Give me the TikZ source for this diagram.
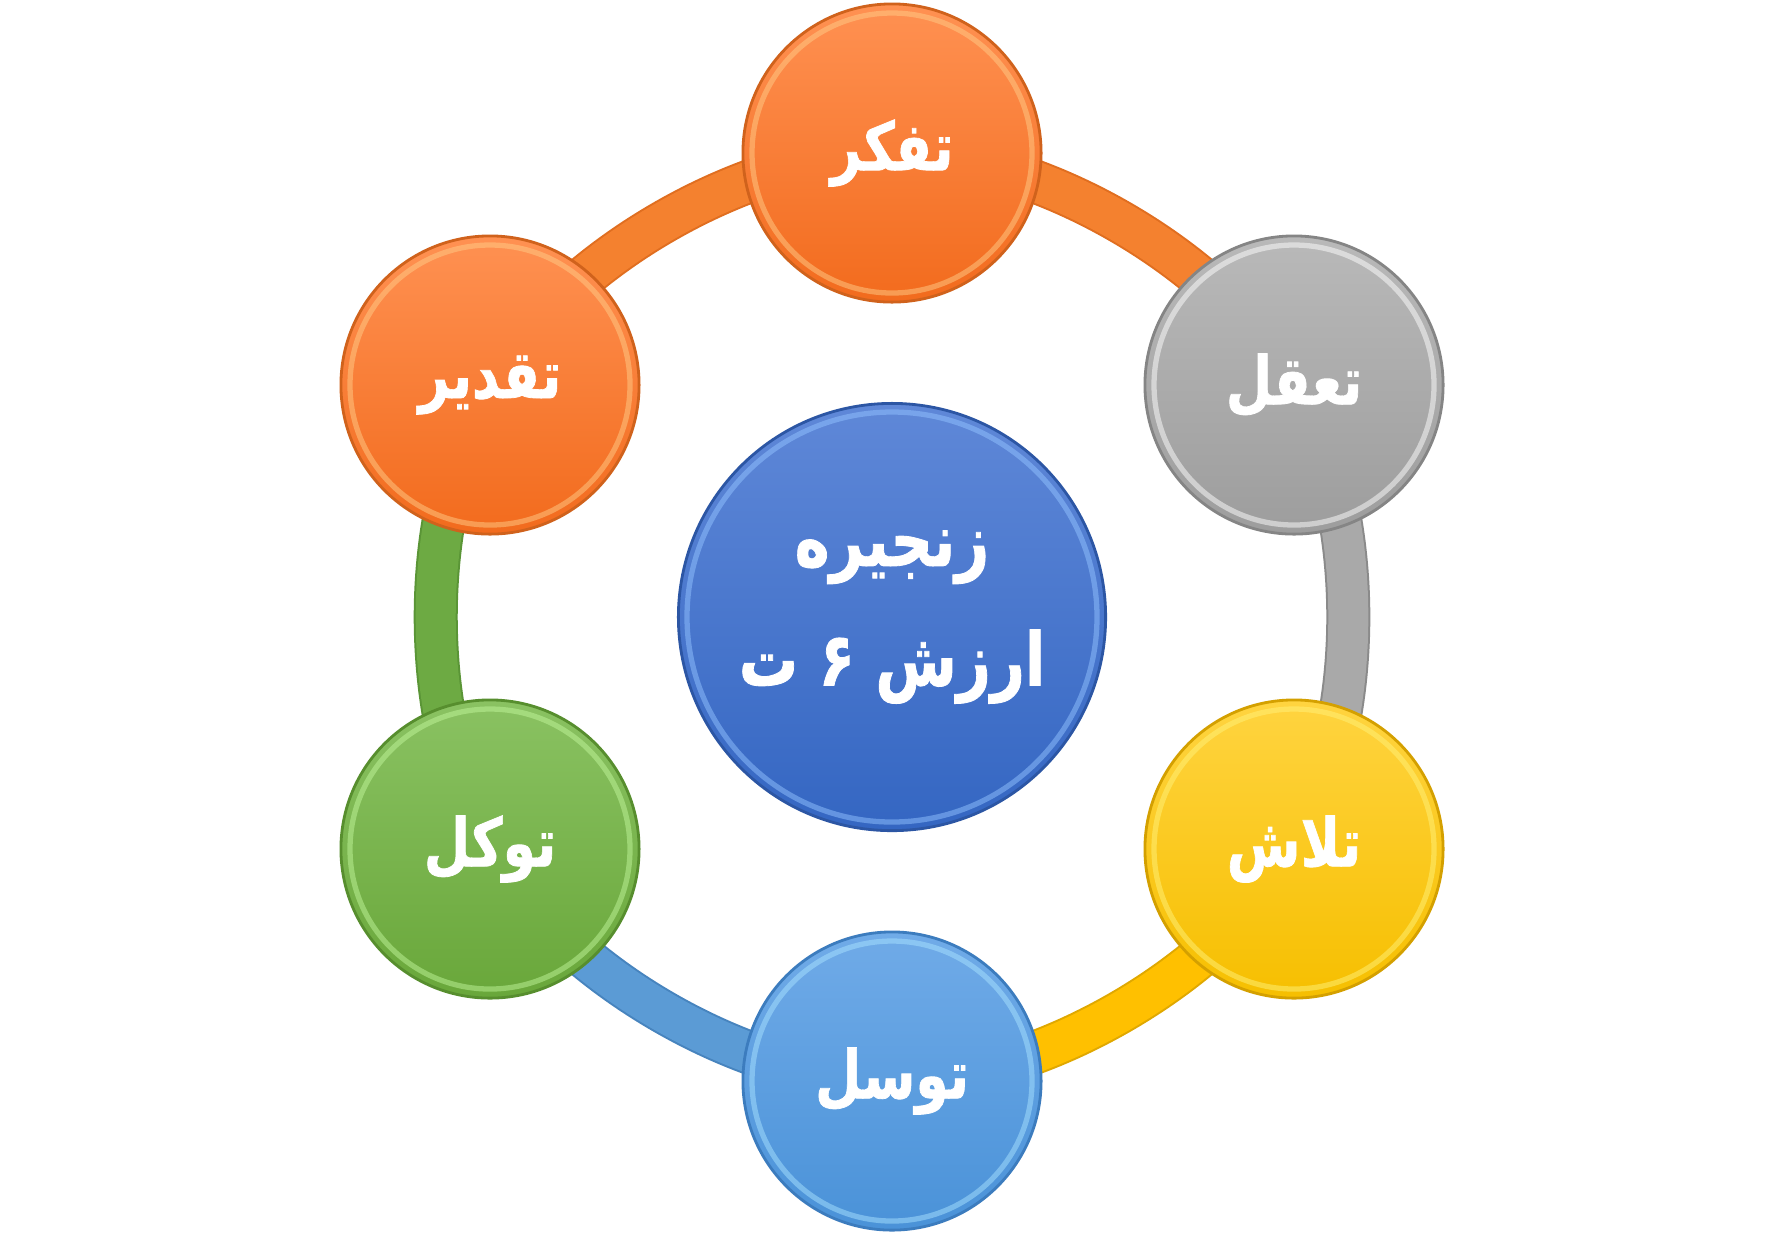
\documentclass[tikz,border=0pt]{standalone}
\usepackage{graphicx}
\usepackage{fontspec}
\newfontfamily\arabicfont[Script=Arabic]{DejaVu Sans}
\newfontfamily\arabicheavy[Script=Arabic, BoldFeatures={FakeBold=1.2}]{DejaVu Sans}
\TeXXeTstate=1
\pgfdeclarelayer{bg}
\pgfsetlayers{bg,main}
\definecolor{orT}{HTML}{FF9152}\definecolor{orB}{HTML}{F26B1D}\definecolor{orR}{HTML}{D0621C}\definecolor{orH}{HTML}{FFCC88}
\definecolor{orS}{HTML}{F4812F}\definecolor{orE}{HTML}{E06E20}
\definecolor{grT}{HTML}{B9B9B9}\definecolor{grB}{HTML}{9D9D9D}\definecolor{grR}{HTML}{858585}\definecolor{grH}{HTML}{FFFFFF}
\definecolor{grS}{HTML}{A9A9A9}\definecolor{grE}{HTML}{8A8A8A}
\definecolor{yeT}{HTML}{FFD440}\definecolor{yeB}{HTML}{F6BF00}\definecolor{yeR}{HTML}{D4A000}\definecolor{yeH}{HTML}{FFF27A}
\definecolor{yeS}{HTML}{FFC000}\definecolor{yeE}{HTML}{E0A800}
\definecolor{blT}{HTML}{70ABE8}\definecolor{blB}{HTML}{4A92D8}\definecolor{blR}{HTML}{3C7CBE}\definecolor{blH}{HTML}{A8E2FF}
\definecolor{blS}{HTML}{5B9BD5}\definecolor{blE}{HTML}{4784BE}
\definecolor{gnT}{HTML}{8AC262}\definecolor{gnB}{HTML}{69A73A}\definecolor{gnR}{HTML}{578E2E}\definecolor{gnH}{HTML}{C0F59A}
\definecolor{gnS}{HTML}{6DAA43}\definecolor{gnE}{HTML}{5A9536}
\definecolor{hbT}{HTML}{5F88D8}\definecolor{hbB}{HTML}{3466C2}\definecolor{hbR}{HTML}{2C56A4}\definecolor{hbH}{HTML}{92C2FF}
\newcommand{\faword}[1]{\scalebox{0.8}[1]{\beginR #1\endR}}
\newcommand{\hubword}[1]{\raisebox{-0.11cm}{\scalebox{0.8}[1]{\beginR #1\endR}}}
\tikzset{
  ball/.style n args={3}{circle, inner sep=0pt, minimum size=2.98cm,
    top color=#1, bottom color=#2, draw=#3, line width=0.8pt,
    text=white, font=\arabicheavy\bfseries\fontsize{19}{23}\selectfont},
  hubball/.style n args={3}{circle, inner sep=0pt, minimum size=4.27cm,
    top color=#1, bottom color=#2, draw=#3, line width=0.8pt,
    text=white, align=center, font=\arabicheavy\bfseries\fontsize{21}{34}\selectfont},
  bevel/.style={draw=#1, line width=1.5pt, opacity=0.5},
  seg/.style 2 args={draw=#2, line width=0.02cm, double=#1, double distance=0.40cm, line cap=butt},
}
\begin{document}
\begin{tikzpicture}[x=0.01cm,y=-0.01cm]
\begin{pgfonlayer}{bg}
\fill[white] (0,0) rectangle (1783,1232);
\end{pgfonlayer}
\useasboundingbox (0,0) rectangle (1783,1232);
% nodes
\node[hubball={hbT}{hbB}{hbR}] (hub) at (892,617) {\hubword{زنجیره}\\\hubword{ارزش ۶ ت}};
\node[ball={orT}{orB}{orR}] (tafakor) at (892,153) {\faword{تفکر}};
\node[ball={grT}{grB}{grR}] (taaqol) at (1294,385) {\faword{تعقل}};
\node[ball={yeT}{yeB}{yeR}] (talash) at (1294,849) {\faword{تلاش}};
\node[ball={blT}{blB}{blR}] (tavasol) at (892,1081) {\faword{توسل}};
\node[ball={gnT}{gnB}{gnR}] (tavakol) at (490,849) {\faword{توکل}};
\node[ball={orT}{orB}{orR}] (taqdir) at (490,385) {\faword{تقدیر}};
% bevel highlights
\draw[bevel=hbH] (hub.center) circle (205);
\draw[bevel=orH] (tafakor.center) circle (140);
\draw[bevel=grH] (taaqol.center) circle (140);
\draw[bevel=yeH] (talash.center) circle (140);
\draw[bevel=blH] (tavasol.center) circle (140);
\draw[bevel=gnH] (tavakol.center) circle (140);
\draw[bevel=orH] (taqdir.center) circle (140);
% ring segments
\begin{pgfonlayer}{bg}
\draw[seg={orS}{orE}] (tafakor.center) to[bend left=30, looseness=0.8] (taaqol.center);
\draw[seg={grS}{grE}] (taaqol.center) to[bend left=30, looseness=0.8] (talash.center);
\draw[seg={yeS}{yeE}] (talash.center) to[bend left=30, looseness=0.8] (tavasol.center);
\draw[seg={blS}{blE}] (tavasol.center) to[bend left=30, looseness=0.8] (tavakol.center);
\draw[seg={gnS}{gnE}] (tavakol.center) to[bend left=30, looseness=0.8] (taqdir.center);
\draw[seg={orS}{orE}] (taqdir.center) to[bend left=30, looseness=0.8] (tafakor.center);
\end{pgfonlayer}
\end{tikzpicture}
\end{document}
